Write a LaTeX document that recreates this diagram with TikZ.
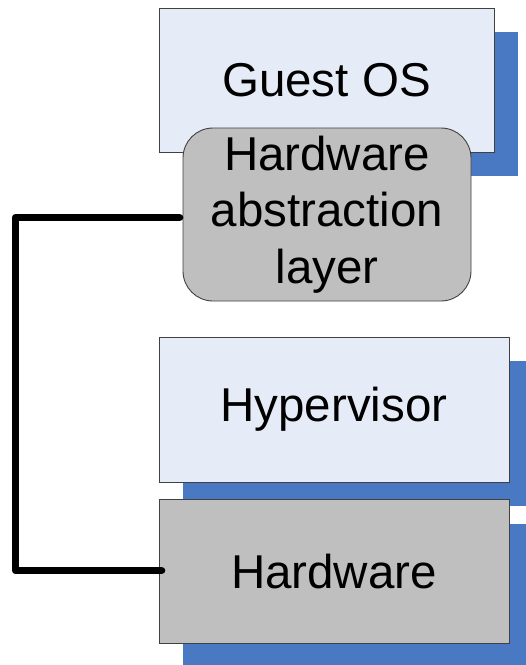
\documentclass[tikz,border=0pt]{standalone}
\usepackage{fontspec}
\setmainfont{Liberation Sans}
\usetikzlibrary{shadows}
\definecolor{boxblue}{HTML}{E6ECF7}
\definecolor{boxgray}{HTML}{BFBFBF}
\definecolor{shadowblue}{HTML}{4879C2}
\definecolor{edgegray}{HTML}{404040}
\begin{document}
\begin{tikzpicture}[x=1pt,y=-1pt,
  layerbox/.style={draw=edgegray, line width=0.9pt, rectangle, inner sep=0pt,
    font=\fontsize{47.5}{56.5}\selectfont, align=center,
    drop shadow={shadow xshift=24pt, shadow yshift=-24pt, fill=shadowblue, opacity=1}},
  halbox/.style={draw=edgegray, line width=0.9pt, rectangle, rounded corners=30pt, inner sep=0pt,
    fill=boxgray, font=\fontsize{47.5}{56.5}\selectfont, align=center},
  conn/.style={line width=7.5pt, line cap=round, line join=round}]
\useasboundingbox (0,0) rectangle (526,665);
\node[layerbox, fill=boxblue, minimum width=335pt, minimum height=144pt] (go) at (326.5,80) {Guest OS};
\node[halbox, minimum width=288pt, minimum height=173pt] (hal) at (327,214.5) {Hardware\\abstraction\\layer};
\node[layerbox, fill=boxblue, minimum width=350pt, minimum height=145pt] (hv) at (334,409.5) {Hypervisor};
\node[layerbox, fill=boxgray, minimum width=350pt, minimum height=144pt] (hw) at (334,571.5) {Hardware};
\draw[conn] ([shift={(-3,3)}]hal.west) -| ([shift={(-143,-1)}]hw.west) -- ([shift={(3,-1)}]hw.west);
\end{tikzpicture}
\end{document}
